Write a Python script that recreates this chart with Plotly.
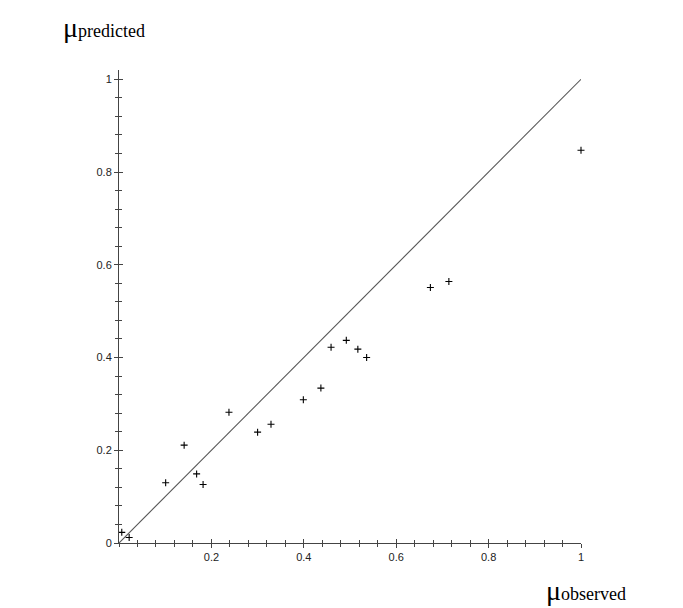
import plotly.graph_objects as go

obs = [0.006, 0.022, 0.101, 0.141, 0.168, 0.182, 0.238, 0.300, 0.329, 0.399,
       0.437, 0.459, 0.492, 0.517, 0.536, 0.674, 0.714, 1.000]
pred = [0.023, 0.012, 0.130, 0.211, 0.149, 0.126, 0.282, 0.239, 0.256, 0.309,
        0.334, 0.422, 0.437, 0.418, 0.400, 0.551, 0.564, 0.847]
diag = [0, 1]
x_tickvals = [0.2, 0.4, 0.6, 0.8, 1.0]
x_ticktext = ["0.2", "0.4", "0.6", "0.8", "1"]
y_tickvals = [0, 0.2, 0.4, 0.6, 0.8, 1.0]
y_ticktext = ["0", "0.2", "0.4", "0.6", "0.8", "1"]

axcol = "#444444"
tickfont = dict(family="Liberation Sans, Arial, sans-serif", size=11, color="#222222")

fig = go.Figure()
fig.add_trace(go.Scatter(x=diag, y=diag, mode="lines",
                         line=dict(color="#555555", width=1.1), hoverinfo="skip"))
fig.add_trace(go.Scatter(x=obs, y=pred, mode="markers", cliponaxis=False,
                         marker=dict(symbol="cross-thin", size=5,
                                     line=dict(color="black", width=1.1))))

common = dict(showgrid=False, zeroline=False, showline=True, linecolor=axcol,
              linewidth=1, tickcolor=axcol, tickwidth=1)
fig.update_layout(
    width=683, height=608, showlegend=False,
    paper_bgcolor="white", plot_bgcolor="white",
    margin=dict(l=119, r=102, t=70, b=65),
    xaxis=dict(range=[0, 1], tickvals=x_tickvals, ticktext=x_ticktext,
               ticks="outside", ticklen=4, tickfont=tickfont,
               minor=dict(dtick=0.04, tick0=0, ticks="outside", ticklen=3,
                          tickcolor=axcol, tickwidth=1),
               **common),
    yaxis=dict(range=[0, 1.02], tickvals=y_tickvals, ticktext=y_ticktext,
               ticks="outside", ticklen=4, tickfont=tickfont,
               minor=dict(dtick=0.04, tick0=0, ticks="outside", ticklen=3,
                          tickcolor=axcol, tickwidth=1),
               **common),
    xaxis2=dict(range=[0, 1], overlaying="x", side="bottom", anchor="y",
                tickvals=x_tickvals, showticklabels=False, ticks="inside", ticklen=4,
                minor=dict(dtick=0.04, tick0=0, ticks="inside", ticklen=3,
                           tickcolor=axcol, tickwidth=1),
                **common),
    yaxis2=dict(range=[0, 1.02], overlaying="y", side="left", anchor="x",
                tickvals=y_tickvals, showticklabels=False, ticks="inside", ticklen=4,
                minor=dict(dtick=0.04, tick0=0, ticks="inside", ticklen=3,
                           tickcolor=axcol, tickwidth=1),
                **common),
)
# dummy trace to activate overlay axes
fig.add_trace(go.Scatter(x=[None], y=[None], xaxis="x2", yaxis="y2",
                         mode="markers", hoverinfo="skip"))

lblfont = dict(family="Liberation Serif, Times New Roman, serif", size=28, color="black")
fig.add_annotation(xref="paper", yref="paper", x=-0.032, y=1.089,
                   xanchor="center", yanchor="middle", showarrow=False,
                   text="μ<span style='font-size:18px'>predicted</span>", font=lblfont)
fig.add_annotation(xref="paper", yref="paper", x=1.011, y=-0.101,
                   xanchor="center", yanchor="middle", showarrow=False,
                   text="μ<span style='font-size:18px'>observed</span>", font=lblfont)

fig.write_html("out.html")
